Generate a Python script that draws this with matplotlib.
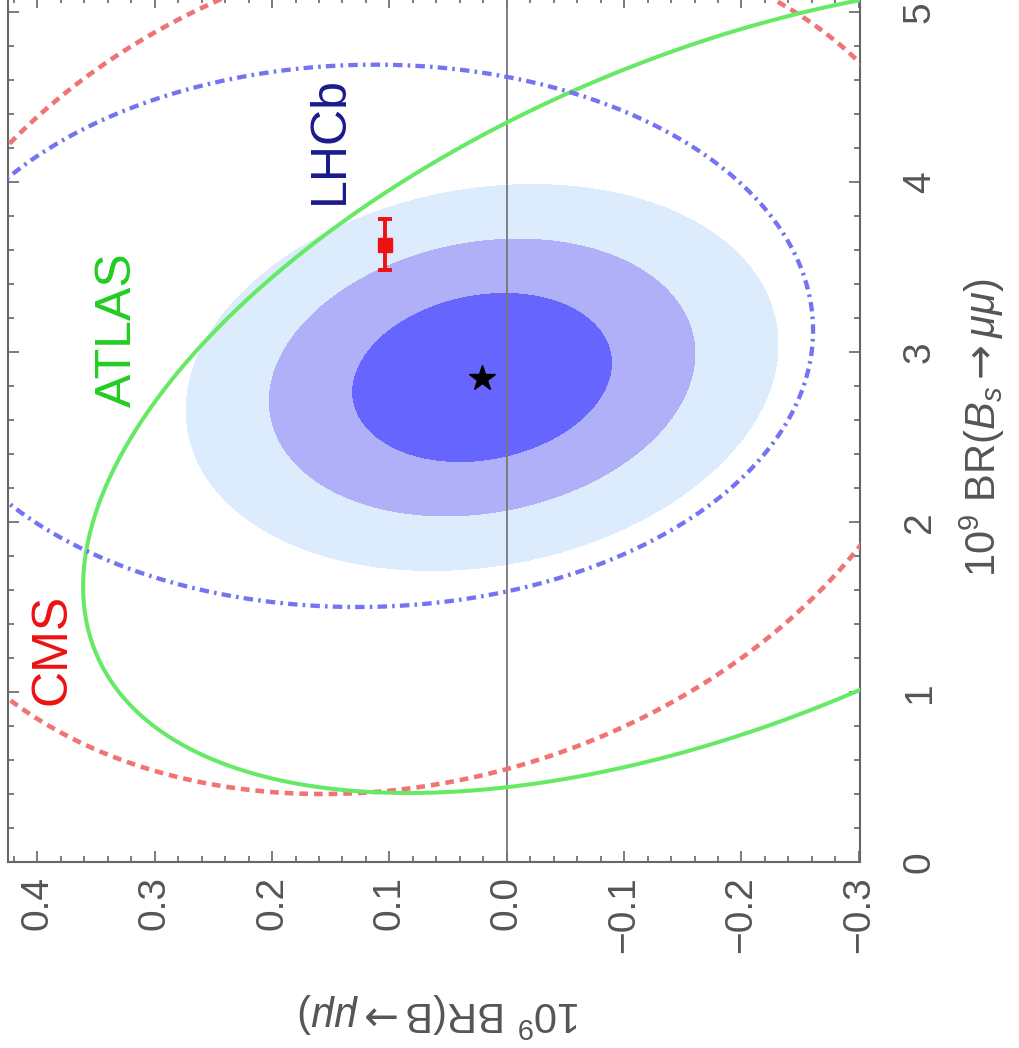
import numpy as np
import matplotlib.pyplot as plt
from matplotlib.ticker import MultipleLocator, FuncFormatter

plt.rcParams['font.family'] = ['Liberation Sans', 'DejaVu Sans']
plt.rcParams['mathtext.fontset'] = 'custom'
plt.rcParams['mathtext.rm'] = 'Liberation Sans'
plt.rcParams['mathtext.it'] = 'Liberation Sans:italic'
plt.rcParams['mathtext.sf'] = 'DejaVu Sans'

# combined fit in the (BR(B->mumu), BR(Bs->mumu)) plane, both in units of 1e-9
fit_center = [0.021, 2.85]
fit_sigma = [0.0733, 0.33]
fit_rho = -0.17
fit_levels = [0, 2.30, 6.18, 11.83]   # 1, 2, 3 sigma for two parameters
fit_colors = ['#6666ff', '#b0b0f8', '#dcecfc']

# single-experiment contours: center, half-widths, correlation
exp_names = ['CMS', 'ATLAS', 'LHCb']
exp_center = [[0.077, 2.92], [-0.184, 2.79], [0.12, 3.095]]
exp_sigma = [[0.461, 2.52], [0.545, 2.384], [0.381, 1.595]]
exp_rho = [-0.174, -0.491, -0.02]
exp_colors = ['#f07474', '#66ea66', '#7474f2']
exp_widths = [3.3, 2.9, 3.1]
exp_styles = [(0, (1.9, 1.3)), 'solid', (0, (2.2, 1.2, 0.6, 1.2))]
label_colors = ['#ee1111', '#22cc22', '#1a1a8c']
label_pos = [[0.387, 1.25], [0.331, 3.13], [0.151, 4.25]]

# Standard Model prediction
sm_b = 0.104
sm_bs = 3.63
sm_bs_err = 0.15


def chi2(u, v, center, sigma, rho):
    du = (u - center[0]) / sigma[0]
    dv = (v - center[1]) / sigma[1]
    return (du ** 2 - 2 * rho * du * dv + dv ** 2) / (1 - rho ** 2)


fig = plt.figure(figsize=(10.19, 10.48), dpi=100)
ax = fig.add_axes([8 / 1019, 186 / 1048, 852 / 1019, 865 / 1048])

u = np.linspace(-0.4, 0.5, 700)
v = np.linspace(-0.5, 5.6, 700)
U, V = np.meshgrid(u, v)

z_fit = chi2(U, V, fit_center, fit_sigma, fit_rho)
ax.contourf(U, V, z_fit, levels=fit_levels, colors=fit_colors, zorder=1)

ax.axvline(0, color='#777777', lw=1.3, zorder=2)

for i in range(len(exp_names)):
    z = chi2(U, V, exp_center[i], exp_sigma[i], exp_rho[i])
    cs = ax.contour(U, V, z, levels=[1.0], colors=[exp_colors[i]],
                    linewidths=exp_widths[i], zorder=3)
    cs.set_linestyle(exp_styles[i])
    ax.text(label_pos[i][0], label_pos[i][1], exp_names[i], rotation=90,
            color=label_colors[i], fontsize=36, ha='center', va='center')

ax.errorbar(sm_b, sm_bs, yerr=sm_bs_err, fmt='s', ms=10, color='#ee1111',
            elinewidth=2.8, capsize=4.7, capthick=2.8, zorder=5)
ax.plot(fit_center[0], fit_center[1], marker='*', ms=19, color='black',
        ls='none', zorder=6)

ax.set_xlim(0.425, -0.301)
ax.set_ylim(0, 865 / 170)

ax.xaxis.set_major_locator(MultipleLocator(0.1))
ax.xaxis.set_minor_locator(MultipleLocator(0.02))
ax.yaxis.set_major_locator(MultipleLocator(1))
ax.yaxis.set_minor_locator(MultipleLocator(0.2))


def fmt_b(x, pos):
    if abs(x) < 1e-9:
        x = 0.0
    return f'{x:.1f}'.replace('-', '\u2212')


ax.xaxis.set_major_formatter(FuncFormatter(fmt_b))
ax.yaxis.set_major_formatter(FuncFormatter(lambda x, pos: f'{x:.0f}'))

ax.tick_params(which='both', direction='in', top=True, bottom=True,
               left=True, right=True, color='#666666', width=1.2)
ax.tick_params(which='major', length=8)
ax.tick_params(which='minor', length=4.5)
ax.tick_params(axis='x', labelrotation=90, labelsize=28, labelcolor='#555555', pad=10)
ax.tick_params(axis='y', labelleft=False, labelright=True, labelrotation=90,
               labelsize=28, labelcolor='#555555', pad=30)
for t in ax.get_yticklabels():
    t.set_va('center')

for s in ax.spines.values():
    s.set_color('#666666')
    s.set_linewidth(1.5)

ax.set_xlabel(r'$10^9\ \mathrm{BR}(\mathrm{B}\mathsf{\rightarrow}\mu\mu)$',
              fontsize=30, color='#555555', rotation=180, va='center')
ax.xaxis.set_label_coords(0.507, -0.177)
ax.yaxis.set_label_position('right')
ax.set_ylabel(r'$10^9\ \mathrm{BR}(B_s\mathsf{\rightarrow}\mu\mu)$',
              fontsize=30, color='#555555', rotation=90, va='center')
ax.yaxis.set_label_coords(1.144, 0.502)

fig.savefig('out.png', dpi=100)
